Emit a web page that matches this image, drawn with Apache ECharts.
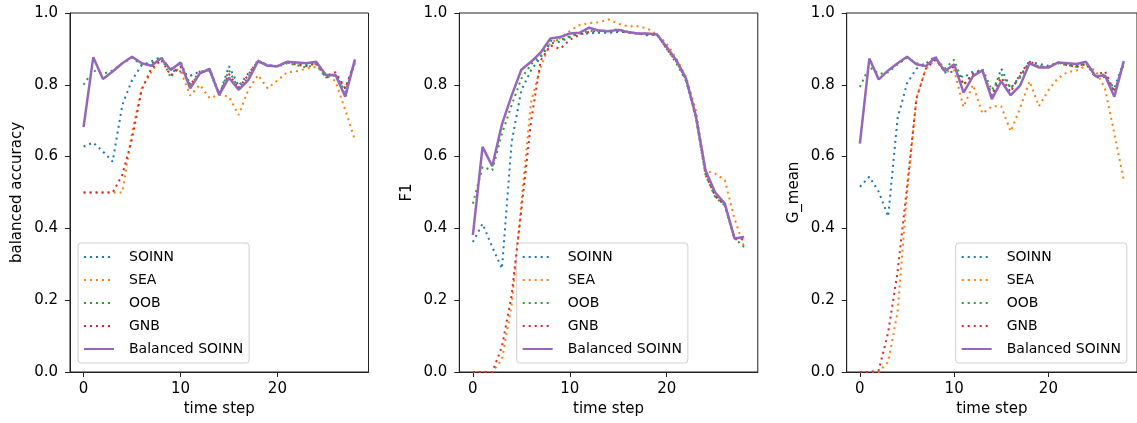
<!DOCTYPE html>
<html>
<head>
<meta charset="utf-8">
<script src="https://cdn.jsdelivr.net/npm/echarts@6/dist/echarts.min.js"></script>
<style>
  html, body { margin: 0; padding: 0; background: #fff; }
  #main { width: 1137px; height: 423px; }
</style>
</head>
<body>
<div id="main"></div>
<script>
// data, time steps 0..28
var steps = [];
for (var s = 0; s <= 28; s++) steps.push(s);

var names = ['SOINN', 'SEA', 'OOB', 'GNB', 'Balanced SOINN'];
var colors = ['#1f77b4', '#ff7f0e', '#2ca02c', '#d62728', '#9467bd'];
var yNames = ['balanced accuracy', 'F1', 'G_mean'];
var xTicks = [0, 10, 20];

// balanced accuracy
var soinn1 = [0.628,0.639,0.614,0.586,0.744,0.813,0.855,0.865,0.878,0.84,0.837,0.825,0.837,0.84,0.77,0.852,0.797,0.832,0.864,0.855,0.852,0.862,0.86,0.855,0.862,0.82,0.827,0.79,0.864];
var sea1   = [0.5,0.5,0.5,0.5,0.5,0.666,0.79,0.837,0.87,0.847,0.84,0.77,0.8,0.763,0.772,0.767,0.716,0.786,0.827,0.79,0.812,0.835,0.838,0.845,0.85,0.83,0.81,0.73,0.646];
var oob1   = [0.80,0.84,0.83,0.84,0.86,0.875,0.855,0.858,0.878,0.82,0.865,0.80,0.83,0.845,0.775,0.84,0.79,0.82,0.868,0.855,0.85,0.86,0.855,0.848,0.858,0.82,0.83,0.78,0.86];
var gnb1   = [0.5,0.5,0.5,0.5,0.549,0.65,0.786,0.846,0.87,0.826,0.85,0.80,0.837,0.84,0.772,0.83,0.79,0.828,0.868,0.853,0.852,0.864,0.855,0.852,0.86,0.825,0.835,0.79,0.866];
var bal1   = [0.682,0.877,0.816,0.837,0.86,0.878,0.86,0.853,0.874,0.841,0.862,0.79,0.832,0.844,0.772,0.82,0.786,0.813,0.866,0.853,0.852,0.864,0.862,0.86,0.864,0.827,0.827,0.767,0.871];

// F1
var soinn2 = [0.362,0.413,0.348,0.288,0.64,0.785,0.84,0.877,0.915,0.92,0.933,0.943,0.943,0.945,0.945,0.947,0.947,0.943,0.938,0.94,0.905,0.868,0.815,0.715,0.56,0.49,0.465,0.372,0.376];
var sea2   = [0,0,0,0.035,0.186,0.469,0.752,0.85,0.917,0.93,0.95,0.966,0.972,0.974,0.982,0.97,0.963,0.963,0.957,0.94,0.915,0.873,0.822,0.73,0.56,0.553,0.534,0.427,0.348];
var oob2   = [0.469,0.571,0.562,0.664,0.743,0.817,0.857,0.88,0.922,0.925,0.935,0.943,0.95,0.951,0.95,0.955,0.947,0.943,0.943,0.94,0.90,0.86,0.81,0.71,0.55,0.487,0.464,0.372,0.348];
var gnb2   = [0,0,0,0.07,0.214,0.45,0.697,0.868,0.91,0.90,0.925,0.94,0.947,0.95,0.948,0.95,0.945,0.943,0.94,0.94,0.90,0.865,0.815,0.71,0.55,0.49,0.465,0.37,0.37];
var bal2   = [0.381,0.627,0.573,0.69,0.77,0.842,0.864,0.89,0.929,0.933,0.943,0.945,0.959,0.951,0.949,0.953,0.947,0.943,0.943,0.94,0.905,0.868,0.817,0.715,0.562,0.5,0.469,0.372,0.376];

// G_mean
var soinn3 = [0.516,0.544,0.502,0.433,0.707,0.804,0.845,0.859,0.88,0.834,0.837,0.82,0.837,0.837,0.77,0.845,0.79,0.825,0.864,0.858,0.853,0.862,0.858,0.853,0.862,0.82,0.822,0.79,0.866];
var sea3   = [0,0,0,0.028,0.167,0.497,0.762,0.845,0.87,0.836,0.84,0.738,0.80,0.72,0.74,0.74,0.67,0.735,0.81,0.74,0.785,0.818,0.835,0.84,0.853,0.84,0.79,0.664,0.534];
var oob3   = [0.794,0.85,0.83,0.835,0.857,0.875,0.86,0.855,0.876,0.845,0.87,0.80,0.83,0.845,0.785,0.83,0.79,0.82,0.862,0.852,0.85,0.86,0.855,0.85,0.86,0.82,0.83,0.78,0.86];
var gnb3   = [0,0,0.005,0.11,0.279,0.515,0.762,0.845,0.87,0.84,0.85,0.80,0.83,0.84,0.77,0.82,0.78,0.83,0.866,0.85,0.85,0.862,0.855,0.85,0.858,0.825,0.838,0.78,0.862];
var bal3   = [0.636,0.873,0.815,0.84,0.86,0.878,0.857,0.852,0.876,0.838,0.857,0.778,0.824,0.84,0.76,0.81,0.771,0.798,0.86,0.848,0.848,0.862,0.86,0.858,0.864,0.824,0.826,0.767,0.866];

var panels = [
  [soinn1, sea1, oob1, gnb1, bal1],
  [soinn2, sea2, oob2, gnb2, bal2],
  [soinn3, sea3, oob3, gnb3, bal3]
];

var font = 'DejaVu Sans';
var gridLeft = [70, 459.3, 846.7];
var legendLeft = [78, 516.7, 955.7];

var myChart = echarts.init(document.getElementById('main'));

var grids = [], xAxes = [], yAxes = [], legends = [], series = [];
for (var p = 0; p < 3; p++) {
  grids.push({
    left: gridLeft[p], top: 13, width: 298.5, height: 359,
    show: true, borderColor: '#222', borderWidth: 1
  });
  xAxes.push({
    type: 'value', gridIndex: p, min: -1.4, max: 29.4,
    name: 'time step', nameLocation: 'middle', nameGap: 30,
    nameTextStyle: { fontSize: 15, fontFamily: font, color: '#000' },
    axisLine: { onZero: false, lineStyle: { color: '#222', width: 1 } },
    axisTick: { customValues: xTicks, length: 5, lineStyle: { color: '#222' } },
    axisLabel: { customValues: xTicks, margin: 10, fontSize: 15, fontFamily: font, color: '#000' },
    splitLine: { show: false }
  });
  yAxes.push({
    type: 'value', gridIndex: p, min: 0, max: 1, interval: 0.2,
    name: yNames[p], nameLocation: 'middle', nameGap: 45, nameRotate: 90,
    nameTextStyle: { fontSize: 15, fontFamily: font, color: '#000' },
    axisLine: { show: true, onZero: false, lineStyle: { color: '#222', width: 1 } },
    axisTick: { show: true, length: 5, lineStyle: { color: '#222' } },
    axisLabel: {
      margin: 12, fontSize: 15, fontFamily: font, color: '#000',
      formatter: function (v) { return v.toFixed(1); }
    },
    splitLine: { show: false }
  });
  legends.push({
    data: names, orient: 'vertical', left: legendLeft[p], top: 243,
    itemWidth: 30, itemHeight: 14, itemGap: 7,
    padding: [6, 6, 6, 5],
    backgroundColor: 'rgba(255,255,255,0.8)',
    borderColor: '#d0d0d0', borderWidth: 1, borderRadius: 3,
    itemStyle: { opacity: 0 },
    textStyle: { fontSize: 14, fontFamily: font, color: '#000', lineHeight: 16, padding: [0, 0, 0, 10] },
    selectedMode: false
  });
  for (var k = 0; k < 5; k++) {
    var vals = panels[p][k];
    var pts = steps.map(function (t, i) { return [t, vals[i]]; });
    var solid = k === 4;
    series.push({
      name: names[k], type: 'line', xAxisIndex: p, yAxisIndex: p,
      data: pts, symbol: 'none', animation: false, z: 2 + k,
      itemStyle: { color: colors[k] },
      lineStyle: solid
        ? { color: colors[k], width: 2.5, type: 'solid' }
        : { color: colors[k], width: 2, type: [2, 4], cap: 'butt' }
    });
  }
}

var option = {
  backgroundColor: '#fff',
  animation: false,
  grid: grids,
  xAxis: xAxes,
  yAxis: yAxes,
  legend: legends,
  series: series
};

option && myChart.setOption(option);
</script>
</body>
</html>
